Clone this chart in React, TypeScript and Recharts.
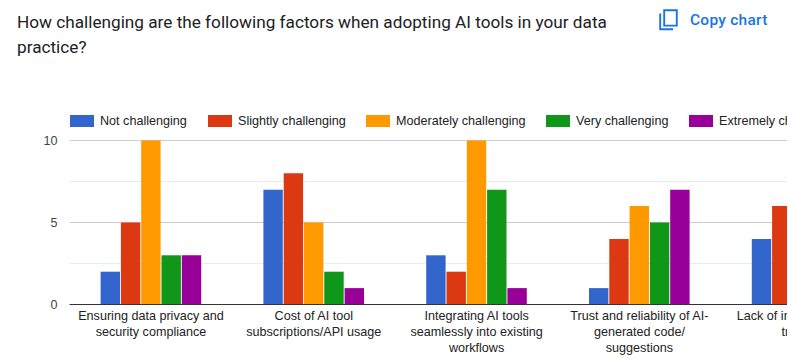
import React from "react";
import { BarChart, Bar, XAxis, YAxis, CartesianGrid, Legend } from "recharts";

const categories = [
  "Ensuring data privacy and|security compliance",
  "Cost of AI tool|subscriptions/API usage",
  "Integrating AI tools|seamlessly into existing|workflows",
  "Trust and reliability of AI-|generated code/|suggestions",
  "Lack of internal skills or|training",
];
const notChallenging = [2, 7, 3, 1, 4];
const slightly = [5, 8, 2, 4, 6];
const moderately = [10, 5, 10, 6, null];
const very = [3, 2, 7, 5, null];
const extremely = [3, 1, 1, 7, null];
const seriesNames = ["Not challenging", "Slightly challenging", "Moderately challenging", "Very challenging", "Extremely challenging"];
const seriesColors = ["#3366cc", "#dc3912", "#ff9900", "#109618", "#990099"];
const seriesValues = [notChallenging, slightly, moderately, very, extremely];
const yTicks = [0, 5, 10];
const majorGrid = [5, 10];
const minorGrid = [2.5, 7.5];
const title = ["How challenging are the following factors when adopting AI tools in your data", "practice?"];

const data = categories.map((c, i) => {
  const row: Record<string, string | number | null> = { category: c };
  seriesNames.forEach((s, j) => { row[s] = seriesValues[j][i]; });
  return row;
});

const AXIS_FONT = "'Liberation Sans', Arial, sans-serif";

function CategoryTick({ x, y, payload }: any) {
  const lines = String(payload.value).split("|");
  return (
    <text x={x} textAnchor="middle" fontFamily={AXIS_FONT} fontSize={12.6} fill="#222222">
      {lines.map((l, i) => (
        <tspan key={i} x={x} y={y + 7 + i * 16}>{l}</tspan>
      ))}
    </text>
  );
}

function LegendContent() {
  const lefts = [70, 208, 366, 546, 689];
  return (
    <div style={{ position: "relative", height: 16 }}>
      {seriesNames.map((name, i) => (
        <div key={name} style={{ position: "absolute", left: lefts[i], top: 0, display: "flex", alignItems: "center", whiteSpace: "nowrap", height: 16 }}>
          <span style={{ width: 24, height: 12, background: seriesColors[i], display: "inline-block", marginRight: 6 }} />
          <span style={{ fontFamily: AXIS_FONT, fontSize: 12.6, color: "#222222" }}>{name}</span>
        </div>
      ))}
    </div>
  );
}

export default function App() {
  return (
    <div style={{ position: "absolute", left: 0, top: 0, width: 787, height: 360, overflow: "hidden", background: "#fff" }}>
      <div style={{ position: "absolute", left: 17, top: 10, fontFamily: "Roboto, sans-serif", fontSize: 17.2, lineHeight: "25px", color: "#202124", whiteSpace: "nowrap" }}>
        {title.map((t) => <div key={t}>{t}</div>)}
      </div>
      <svg style={{ position: "absolute", left: 659, top: 9 }} width="20" height="22" viewBox="0 0 20 22">
        <path d="M1.2 4.5 V20.2 H14 M5.2 1.2 H17.8 V16.6 H5.2 Z" fill="none" stroke="#1a73e8" strokeWidth="1.9" />
      </svg>
      <div style={{ position: "absolute", left: 690, top: 11, fontFamily: "Roboto, sans-serif", fontWeight: 500, fontSize: 15.5, lineHeight: "18px", letterSpacing: "0.25px", color: "#1a73e8", whiteSpace: "nowrap" }}>
        Copy chart
      </div>
      <div style={{ position: "absolute", left: 0, top: 0 }}>
        <BarChart
          width={1000}
          height={360}
          data={data}
          margin={{ top: 124.5, right: 116.4, bottom: 0, left: 9.6 }}
          barSize={19.4}
          barGap={0.9}
        >
          <CartesianGrid horizontal vertical={false} horizontalValues={minorGrid} stroke="#ebebeb" />
          <CartesianGrid horizontal vertical={false} horizontalValues={majorGrid} stroke="#cccccc" />
          <XAxis dataKey="category" interval={0} tick={<CategoryTick />} tickLine={false} axisLine={{ stroke: "#333333" }} height={55.5} />
          <YAxis width={60} domain={[0, 10]} ticks={yTicks} axisLine={false} tickLine={false} tickMargin={6} tick={{ fontFamily: AXIS_FONT, fontSize: 12.6, fill: "#444444" }} />
          <Legend verticalAlign="top" content={<LegendContent />} wrapperStyle={{ left: 0, top: 113, width: 1000 }} />
          {seriesNames.map((s, i) => (
            <Bar key={s} dataKey={s} fill={seriesColors[i]} isAnimationActive={false} />
          ))}
        </BarChart>
      </div>
    </div>
  );
}
